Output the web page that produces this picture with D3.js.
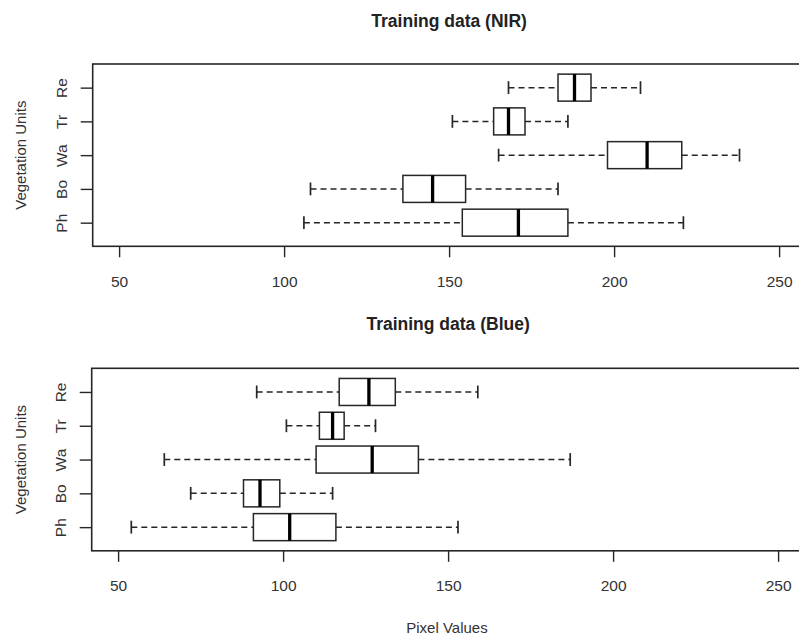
<!DOCTYPE html>
<html>
<head>
<meta charset="utf-8">
<script src="https://cdn.jsdelivr.net/npm/d3@7"></script>
<style>
  html, body { margin: 0; padding: 0; background: #fff; }
  svg { display: block; }
</style>
</head>
<body>
<script>
// ---- data ----
const categories = ["Ph", "Bo", "Wa", "Tr", "Re"];

const nirLow  = [106, 108, 165, 151, 168];
const nirQ1   = [154, 136, 198, 163.5, 183];
const nirMed  = [171, 145, 210, 168, 188];
const nirQ3   = [186, 155, 220.5, 173, 193];
const nirHigh = [221, 183, 238, 186, 208];

const blueLow  = [54, 72, 64, 101, 92];
const blueQ1   = [91, 88, 110, 111, 117];
const blueMed  = [102, 93, 127, 115, 126];
const blueQ3   = [116, 99, 141, 118.5, 134];
const blueHigh = [153, 115, 187, 128, 159];

const xTicks = [50, 100, 150, 200, 250];

const titles = ["Training data (NIR)", "Training data (Blue)"];
const yTitle = "Vegetation Units";
const xTitle = "Pixel Values";

// ---- drawing ----
const W = 799, H = 635;
const svg = d3.select("body").append("svg").attr("width", W).attr("height", H);
const FONT = "'Liberation Sans', Arial, Helvetica, sans-serif";
const LINE = "#262626";
const TEXT = "#333";

const panels = [
  { title: titles[0], left: 92.7, top: 64, bottom: 246.3, titleY: 21,
    low: nirLow, q1: nirQ1, med: nirMed, q3: nirQ3, high: nirHigh },
  { title: titles[1], left: 91.7, top: 368.3, bottom: 550.8, titleY: 323.5,
    low: blueLow, q1: blueQ1, med: blueMed, q3: blueQ3, high: blueHigh }
];

panels.forEach(p => {
  const right = p.left + (258 - 42) * 3.3;
  const x = d3.scaleLinear().domain([42, 258]).range([p.left, right]);
  const y = d3.scaleLinear().domain([0.3, 5.7]).range([p.bottom, p.top]);
  const g = svg.append("g");

  // title
  g.append("text")
    .attr("x", (p.left + right) / 2).attr("y", p.titleY)
    .attr("text-anchor", "middle").attr("dominant-baseline", "central")
    .style("font-family", FONT).style("font-size", "17.5px").style("font-weight", "bold")
    .style("fill", "#222").text(p.title);

  // x axis
  const xAxis = d3.axisBottom(x).tickValues(xTicks).tickSize(11).tickPadding(0).tickFormat(d3.format("d"));
  const xa = g.append("g").attr("transform", `translate(0,${p.bottom})`).call(xAxis);
  xa.select(".domain").remove();
  xa.selectAll(".tick line").attr("stroke", LINE).attr("stroke-width", 1.4);
  xa.selectAll(".tick text")
    .attr("y", 35).attr("dy", null).attr("dominant-baseline", "central")
    .style("font-family", FONT).style("font-size", "15.5px").style("fill", TEXT);

  // y axis
  const yAxis = d3.axisLeft(y).tickValues([1, 2, 3, 4, 5]).tickSize(12).tickPadding(0)
    .tickFormat(d => categories[d - 1]);
  const ya = g.append("g").attr("transform", `translate(${p.left},0)`).call(yAxis);
  ya.select(".domain").remove();
  ya.selectAll(".tick line").attr("stroke", LINE).attr("stroke-width", 1.4);
  ya.selectAll(".tick text")
    .attr("x", null).attr("dy", null)
    .attr("transform", "translate(-31.5,0) rotate(-90)")
    .attr("text-anchor", "middle").attr("dominant-baseline", "central")
    .style("font-family", FONT).style("font-size", "15.5px").style("fill", TEXT);

  // y title
  g.append("text")
    .attr("transform", `translate(20.5,${(p.top + p.bottom) / 2}) rotate(-90)`)
    .attr("text-anchor", "middle").attr("dominant-baseline", "central")
    .style("font-family", FONT).style("font-size", "15px").style("fill", TEXT)
    .text(yTitle);

  // boxes
  const half = 0.4, staple = 0.19;
  const boxes = g.append("g");
  categories.forEach((c, i) => {
    const yc = y(i + 1);
    const bg = boxes.append("g");
    // whiskers dashed
    bg.append("line").attr("x1", x(p.low[i])).attr("x2", x(p.q1[i]))
      .attr("y1", yc).attr("y2", yc)
      .attr("stroke", LINE).attr("stroke-width", 1.5).attr("stroke-dasharray", "6,4");
    bg.append("line").attr("x1", x(p.q3[i])).attr("x2", x(p.high[i]))
      .attr("y1", yc).attr("y2", yc)
      .attr("stroke", LINE).attr("stroke-width", 1.5).attr("stroke-dasharray", "6,4");
    // staples
    [p.low[i], p.high[i]].forEach(v => {
      bg.append("line").attr("x1", x(v)).attr("x2", x(v))
        .attr("y1", y(i + 1 - staple)).attr("y2", y(i + 1 + staple))
        .attr("stroke", LINE).attr("stroke-width", 1.7);
    });
    // box
    bg.append("rect")
      .attr("x", x(p.q1[i])).attr("width", x(p.q3[i]) - x(p.q1[i]))
      .attr("y", y(i + 1 + half)).attr("height", y(i + 1 - half) - y(i + 1 + half))
      .attr("fill", "#fff").attr("stroke", LINE).attr("stroke-width", 1.5);
    // median
    bg.append("line").attr("x1", x(p.med[i])).attr("x2", x(p.med[i]))
      .attr("y1", y(i + 1 - half)).attr("y2", y(i + 1 + half))
      .attr("stroke", "#000").attr("stroke-width", 3.3);
  });

  // frame
  g.append("rect")
    .attr("x", p.left).attr("y", p.top)
    .attr("width", right - p.left).attr("height", p.bottom - p.top)
    .attr("fill", "none").attr("stroke", LINE).attr("stroke-width", 1.6);
});

// x title
svg.append("text")
  .attr("x", 447).attr("y", 627.3)
  .attr("text-anchor", "middle").attr("dominant-baseline", "central")
  .style("font-family", FONT).style("font-size", "15px").style("fill", TEXT)
  .text(xTitle);
</script>
</body>
</html>
